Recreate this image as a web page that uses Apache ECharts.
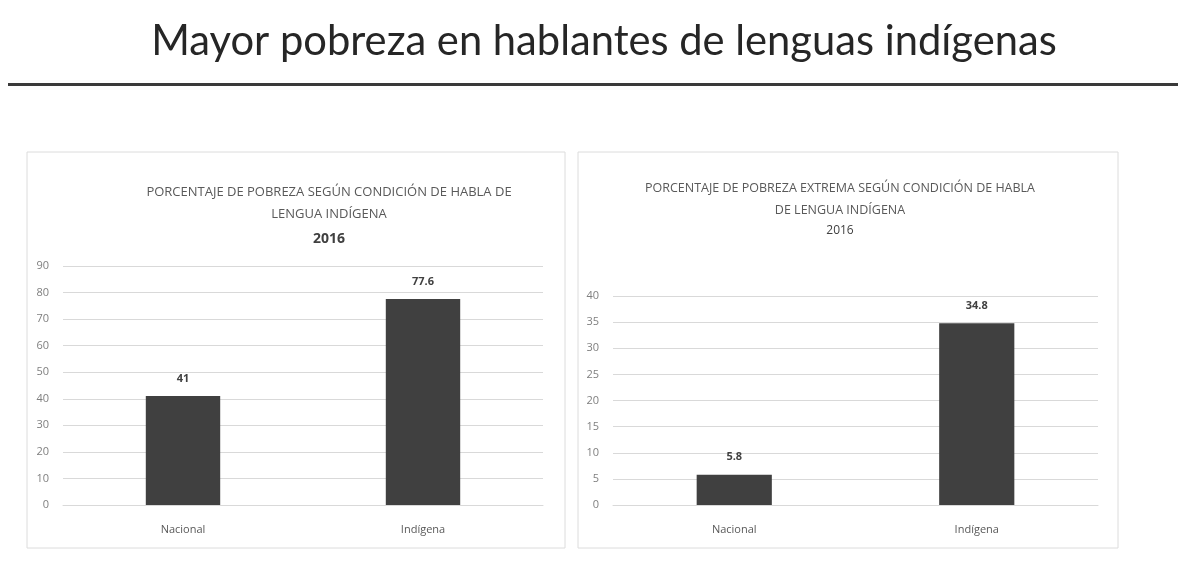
<!DOCTYPE html>
<html><head><meta charset="utf-8">
<script src="https://cdn.jsdelivr.net/npm/echarts@6/dist/echarts.min.js"></script>
<style>html,body{margin:0;padding:0;background:#fff}#c{width:1178px;height:583px}</style>
</head><body><div id="c"></div>
<script>
const mainTitle = "Mayor pobreza en hablantes de lenguas indígenas";
const categories = ["Nacional", "Indígena"];
const pobreza = [41, 77.6];
const pobrezaExtrema = [5.8, 34.8];
const titleLeft = "PORCENTAJE DE POBREZA SEGÚN CONDICIÓN DE HABLA DE\nLENGUA INDÍGENA";
const titleRight = "PORCENTAJE DE POBREZA EXTREMA SEGÚN CONDICIÓN DE HABLA\nDE LENGUA INDÍGENA";
const yearLabel = "2016";

const fam = "'Open Sans', sans-serif";
const chart = echarts.init(document.getElementById('c'));
const axisLabel = {color:'#7f7f7f', fontSize:11, fontFamily:fam};
const catLabel = {color:'#595959', fontSize:11, fontFamily:fam, margin:19};
function yAx(idx, max, interval){
  return {type:'value', gridIndex:idx, min:0, max:max, interval:interval,
    axisLine:{show:false}, axisTick:{show:false},
    axisLabel:Object.assign({margin:14}, axisLabel),
    splitLine:{lineStyle:{color:'#d9d9d9', width:1}}};
}
function xAx(idx){
  return {type:'category', gridIndex:idx, data:categories,
    axisLine:{lineStyle:{color:'#d9d9d9'}}, axisTick:{show:false}, axisLabel:catLabel};
}
function barSeries(idx, data){
  return {type:'bar', xAxisIndex:idx, yAxisIndex:idx, data:data, barWidth:'31%',
    itemStyle:{color:'#404040'},
    label:{show:true, position:'top', distance:12, color:'#404040', fontWeight:'bold', fontSize:11, fontFamily:fam}};
}
chart.setOption({
  animation:false,
  backgroundColor:'#ffffff',
  graphic:[
    {type:'text', x:604, y:21, style:{text:mainTitle, align:'center', fontSize:41.7, fontFamily:"Lato, 'Open Sans', sans-serif", fill:'#262626'}},
    {type:'rect', shape:{x:8, y:83, width:1170, height:3}, style:{fill:'#3a3a3a'}},
    {type:'rect', shape:{x:27, y:152, width:538, height:396}, style:{fill:'none', stroke:'#dcdcdc', lineWidth:1}},
    {type:'rect', shape:{x:578, y:152, width:540, height:396}, style:{fill:'none', stroke:'#dcdcdc', lineWidth:1}}
  ],
  title:[
    {text:titleLeft, left:324, textAlign:'center', top:176, textStyle:{color:'#595959', fontSize:13, fontWeight:'normal', fontFamily:fam, lineHeight:22}},
    {text:yearLabel, left:324, textAlign:'center', top:227, textStyle:{color:'#404040', fontSize:14, fontWeight:'bold', fontFamily:fam}},
    {text:titleRight, left:835, textAlign:'center', top:172, textStyle:{color:'#595959', fontSize:12.5, fontWeight:'normal', fontFamily:fam, lineHeight:22}},
    {text:yearLabel, left:835, textAlign:'center', top:220, textStyle:{color:'#404040', fontSize:12, fontWeight:'normal', fontFamily:fam}}
  ],
  grid:[
    {left:63, top:266, width:480, height:239},
    {left:613, top:296, width:485, height:209}
  ],
  xAxis:[xAx(0), xAx(1)],
  yAxis:[yAx(0, 90, 10), yAx(1, 40, 5)],
  series:[barSeries(0, pobreza), barSeries(1, pobrezaExtrema)]
});
</script></body></html>
